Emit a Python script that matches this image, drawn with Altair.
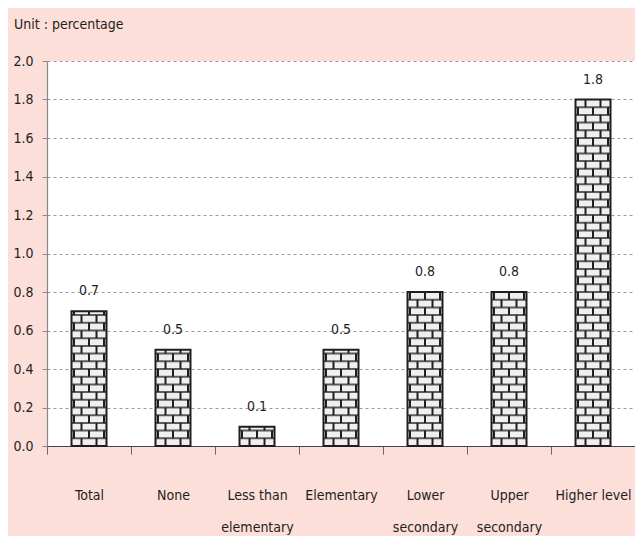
import altair as alt
import pandas as pd

categories = ["Total", "None", "Less than\nelementary", "Elementary",
              "Lower\nsecondary", "Upper\nsecondary", "Higher level"]
values = [0.7, 0.5, 0.1, 0.5, 0.8, 0.8, 1.8]
y_ticks = [0.0, 0.2, 0.4, 0.6, 0.8, 1.0, 1.2, 1.4, 1.6, 1.8, 2.0]
unit_label = "Unit : percentage"

FONT = "Liberation Sans Narrow, DejaVu Sans Condensed, Liberation Sans, sans-serif"
INK = "#1e1e1e"
BAR_W = 35
ROW = 0.04  # brick course height in data units (texture)

df = pd.DataFrame({"cat": categories, "value": values})

# brick courses derived from the bar values (texture only)
rows = []
for c, v in zip(categories, values):
    k = 0
    while k * ROW < v - 1e-9:
        lo = k * ROW
        hi = min((k + 1) * ROW, v)
        rows.append({"cat": c, "lo": lo, "hi": hi, "par": k % 2, "full": hi < v - 1e-9})
        k += 1
bricks = pd.DataFrame(rows)

xaxis = alt.Axis(title=None, labelAngle=0, tickBand="extent", tickSize=8,
                 tickColor="#666", domainColor="#444", domainWidth=1.2,
                 labelPadding=34, labelLineHeight=32,
                 labelExpr="split(datum.label, '\\n')",
                 labelFont=FONT, labelFontSize=14, labelColor=INK, grid=False)
yaxis = alt.Axis(title=None, values=y_ticks, format=".1f", grid=True,
                 gridDash=[3, 3], gridColor="#9a9a9a", tickSize=5,
                 tickColor="#888", domainColor="#888", domainWidth=1.2,
                 labelPadding=9, labelFont=FONT, labelFontSize=14,
                 labelColor=INK, labelOverlap=False, tickCount=11)
xscale = alt.Scale(domain=categories, paddingInner=0, paddingOuter=0)
yscale = alt.Scale(domain=[0, 2], nice=False)


def X():
    return alt.X("cat:N", sort=categories, scale=xscale, axis=xaxis)


def Y(field):
    return alt.Y(field, scale=yscale, axis=yaxis)


bars = alt.Chart(df).mark_bar(size=BAR_W, fill="#efefef").encode(
    x=X(), y=Y("value:Q"))

courses = alt.Chart(bricks).transform_filter("datum.full").mark_tick(
    size=BAR_W, thickness=2, color=INK).encode(x=X(), y=Y("hi:Q"))

joints = []
for par, offs in [(0, [-7.5, 7.5]), (1, [-15, 0, 15])]:
    for o in offs:
        joints.append(
            alt.Chart(bricks).transform_filter(f"datum.par == {par}").mark_rule(
                xOffset=o, strokeWidth=2, color=INK).encode(
                x=X(), y=Y("lo:Q"), y2="hi:Q"))

outline = alt.Chart(df).mark_bar(size=BAR_W, fill=None, fillOpacity=0,
                                 stroke=INK, strokeWidth=2).encode(
    x=X(), y=Y("value:Q"))

labels = alt.Chart(df).mark_text(dy=-20, font=FONT, fontSize=14, color=INK).encode(
    x=X(), y=Y("value:Q"), text=alt.Text("value:Q", format=".1f"))

unit = alt.Chart(pd.DataFrame({"t": [unit_label]})).mark_text(
    align="left", baseline="middle", font=FONT, fontSize=14, color=INK).encode(
    x=alt.value(-33), y=alt.value(-36), text="t:N")

chart = alt.layer(bars, courses, *joints, outline, labels, unit).properties(
    width=588, height=385,
    autosize=alt.AutoSizeParams(type="none"),
    padding={"left": 39, "top": 53, "right": 0, "bottom": 90},
    background="#fcdfd8",
).configure_view(fill="white", stroke=None)

chart.save("out.html", embed_options={"renderer": "svg", "actions": False})
